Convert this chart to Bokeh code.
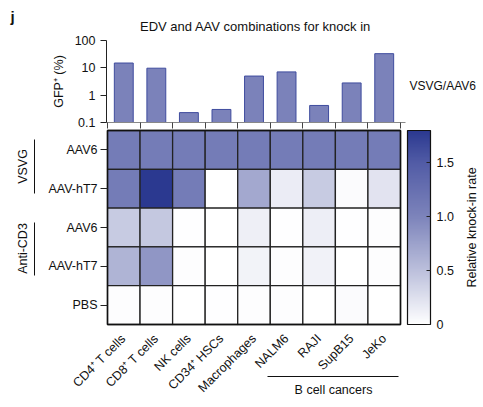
import numpy as np
from bokeh.plotting import figure
from bokeh.models import (Range1d, FixedTicker, LinearColorMapper, ColorBar, Label,
                          ColumnDataSource, LinearAxis, LogAxis, LogScale)
from bokeh.embed import file_html
from bokeh.resources import INLINE

# ---------------- data ----------------
cells = ["CD4\u207a T cells", "CD8\u207a T cells", "NK cells", "CD34\u207a HSCs",
         "Macrophages", "NALM6", "RAJI", "SupB15", "JeKo"]
gfp_pct = [15, 9.7, 0.23, 0.30, 5.0, 7.1, 0.42, 2.8, 33]
row_labels = ["AAV6", "AAV-hT7", "AAV6", "AAV-hT7", "PBS"]
vsvg_aav6 = [1.1, 1.1, 1.1, 1.1, 1.1, 1.1, 1.1, 1.1, 1.1]
vsvg_hT7 = [1.1, 1.8, 1.1, 0.0, 0.7, 0.15, 0.42, 0.03, 0.22]
cd3_aav6 = [0.42, 0.44, 0.01, 0.0, 0.13, 0.01, 0.14, 0.01, 0.02]
cd3_hT7 = [0.6, 0.85, 0.02, 0.0, 0.10, 0.02, 0.11, 0.0, 0.02]
pbs = [0.02, 0.02, 0.0, 0.01, 0.02, 0.02, 0.0, 0.03, 0.0]
cbar_ticks = [0, 0.5, 1.0, 1.5]
gfp_ticks = [0.1, 1, 10, 100]

FONT = "Liberation Sans"
FS = "12.5px"
TXT = "#111111"

# palette (colour stops)
stops_v = [0, 0.5, 1.0, 1.5, 1.8]
stops_c = ["#ffffff", "#bcc0dc", "#7d84bb", "#525ca6", "#2b3990"]
def h2r(h):
    return [int(h[i:i + 2], 16) for i in (1, 3, 5)]
rgb = np.array([h2r(c) for c in stops_c], dtype=float)
vs = np.linspace(0, 1.8, 256)
palette = ["#%02x%02x%02x" % tuple(int(round(np.interp(v, stops_v, rgb[:, k]))) for k in range(3)) for v in vs]

# ---------------- geometry (pixels) ----------------
W, H = 483, 405
hx0, hx1 = 107, 400          # heatmap left/right px
hy_top, hy_bot = 130, 324    # heatmap top/bottom px
ncol, nrow = len(cells), len(row_labels)
ux = (hx1 - hx0) / ncol
uy = (hy_bot - hy_top) / nrow
b_top, b_bot = 40, 122       # bar panel: 100 and 0.1 px
dec = (b_bot - b_top) / 3.0

def X(px):
    return (px - hx0) / ux

def Y(py):
    return (hy_bot - py) / uy

p = figure(width=W, height=H, x_range=Range1d(X(0), X(W)), y_range=Range1d(Y(H), Y(0)),
           x_axis_location=None, y_axis_location=None,
           output_backend="svg", toolbar_location=None,
           min_border=0, min_border_left=0, min_border_right=0, min_border_top=0, min_border_bottom=0)
p.grid.visible = False
p.outline_line_color = None
p.background_fill_color = "white"

# log scale for the bar panel
p.extra_y_ranges = {"log": Range1d(10 ** (-1 - (H - b_bot) / dec), 10 ** (2 + b_top / dec))}
p.extra_y_scales = {"log": LogScale()}

# ---------------- bars ----------------
src1 = ColumnDataSource(dict(x=[i + 0.5 for i in range(ncol)], top=gfp_pct,
                             bottom=[0.1] * ncol))
p.vbar(x="x", top="top", bottom="bottom", width=0.58, source=src1, y_range_name="log",
       fill_color="#7b82ba", line_color="#3f4c9e", line_width=1)

ly = LogAxis(y_range_name="log", fixed_location=X(106), bounds=(0.1, 100),
             ticker=FixedTicker(ticks=gfp_ticks, minor_ticks=[]))
ly.major_label_overrides = {0.1: "0.1", 1: "1", 10: "10", 100: "100"}
ly.axis_label = "GFP\u207a (%)"
ly.axis_label_text_font = FONT
ly.axis_label_text_font_size = FS
ly.axis_label_text_font_style = "normal"
ly.axis_label_text_color = TXT
ly.axis_label_standoff = 6
ly.major_label_text_font = FONT
ly.major_label_text_font_size = FS
ly.major_label_text_color = TXT
ly.major_tick_in = 0
ly.major_tick_out = 6
ly.minor_tick_line_color = None
ly.axis_line_color = "#222222"
ly.major_tick_line_color = "#222222"
p.add_layout(ly, "left")

bx = LinearAxis(y_range_name="log", fixed_location=0.1, bounds=(X(106), X(405)),
                ticker=FixedTicker(ticks=list(range(ncol + 1)), minor_ticks=[]))
bx.major_label_text_color = None
bx.major_label_standoff = 0
bx.major_tick_in = 0
bx.major_tick_out = 6
bx.axis_line_color = "#888888"
bx.major_tick_line_color = "#444444"
bx.minor_tick_line_color = None
p.add_layout(bx, "below")

# ---------------- heatmap ----------------
mat = [vsvg_aav6, vsvg_hT7, cd3_aav6, cd3_hT7, pbs]
xs, ys, vals = [], [], []
for r, row in enumerate(mat):
    for c, v in enumerate(row):
        xs.append(c + 0.5)
        ys.append(nrow - 0.5 - r)
        vals.append(v)
mapper = LinearColorMapper(palette=palette, low=0, high=1.8)
src2 = ColumnDataSource(dict(x=xs, y=ys, v=vals))
p.rect(x="x", y="y", width=1, height=1, source=src2,
       fill_color={"field": "v", "transform": mapper},
       line_color="#222222", line_width=1.3)
p.rect(x=[ncol / 2], y=[nrow / 2], width=ncol, height=nrow, fill_color=None,
       line_color="#111111", line_width=1.5)

hy = LinearAxis(fixed_location=0, bounds=(0, nrow),
                ticker=FixedTicker(ticks=[nrow - 0.5 - i for i in range(nrow)], minor_ticks=[]))
hy.major_label_overrides = {nrow - 0.5 - i: lab for i, lab in enumerate(row_labels)}
hy.major_label_text_font = FONT
hy.major_label_text_font_size = FS
hy.major_label_text_color = TXT
hy.axis_line_color = None
hy.major_tick_in = 0
hy.major_tick_out = 7
hy.major_tick_line_color = "#222222"
hy.minor_tick_line_color = None
hy.major_label_standoff = 3
p.add_layout(hy, "left")

hx = LinearAxis(fixed_location=0, bounds=(0, ncol),
                ticker=FixedTicker(ticks=[i + 0.5 for i in range(ncol)], minor_ticks=[]))
hx.major_label_overrides = {i + 0.5: lab for i, lab in enumerate(cells)}
hx.major_label_orientation = np.pi / 4
hx.major_label_text_font = FONT
hx.major_label_text_font_size = FS
hx.major_label_text_color = TXT
hx.axis_line_color = None
hx.major_tick_line_color = None
hx.minor_tick_line_color = None
hx.major_label_standoff = 6
p.add_layout(hx, "below")

cb = ColorBar(color_mapper=mapper, width=23, height=hy_bot - hy_top, padding=0, margin=0,
              location=(407, H - hy_bot),
              ticker=FixedTicker(ticks=cbar_ticks),
              major_label_overrides={0: "0", 0.5: "0.5", 1.0: "1.0", 1.5: "1.5"},
              major_label_text_font=FONT, major_label_text_font_size=FS,
              major_label_text_color=TXT,
              major_tick_in=4, major_tick_out=0, major_tick_line_color="#222222",
              bar_line_color="#111111", bar_line_width=1.2, label_standoff=6,
              background_fill_color=None, border_line_color=None)
p.add_layout(cb, "center")

# ---------------- texts & group lines ----------------
for py0, py1, pyc, txt in [(139, 193, 166, "VSVG"), (222, 275, 248, "Anti-CD3")]:
    p.segment(x0=[X(34)], y0=[Y(py0)], x1=[X(34)], y1=[Y(py1)], line_color="#111111", line_width=1)
    p.add_layout(Label(x=X(22), y=Y(pyc), text=txt, angle=np.pi / 2, text_font=FONT,
                       text_font_size=FS, text_color=TXT, text_align="center",
                       text_baseline="middle"))
p.segment(x0=[X(267)], y0=[Y(376)], x1=[X(398)], y1=[Y(376)], line_color="#111111", line_width=1)
p.add_layout(Label(x=X(333), y=Y(389), text="B cell cancers", text_font=FONT,
                   text_font_size=FS, text_color=TXT, text_align="center", text_baseline="middle"))
p.add_layout(Label(x=X(471), y=Y(227), text="Relative knock-in rate", angle=np.pi / 2,
                   text_font=FONT, text_font_size=FS, text_color=TXT, text_align="center",
                   text_baseline="middle"))
p.add_layout(Label(x=X(409), y=Y(85), text="VSVG/AAV6", text_font=FONT, text_font_size="12px",
                   text_color=TXT, text_baseline="middle", text_align="left"))
p.add_layout(Label(x=X(255), y=Y(26), text="EDV and AAV combinations for knock in",
                   text_font=FONT, text_font_size="13px", text_color=TXT,
                   text_align="center", text_baseline="middle"))
p.add_layout(Label(x=X(12), y=Y(16), text="j", text_font=FONT, text_font_size="15px",
                   text_font_style="bold", text_color=TXT, text_align="center",
                   text_baseline="middle"))

open("out.html", "w").write(file_html(p, INLINE))
